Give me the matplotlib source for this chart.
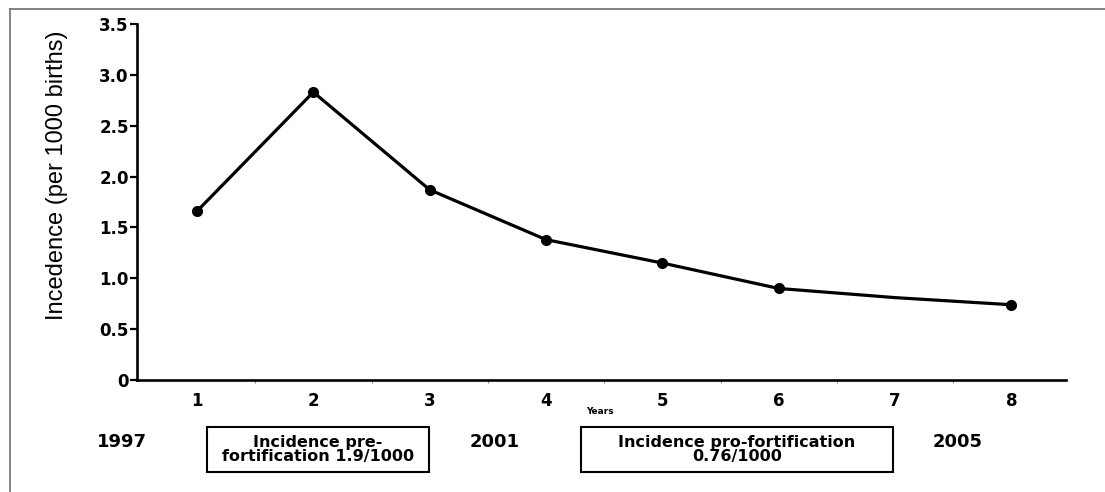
import matplotlib
matplotlib.use('Agg')
import matplotlib.pyplot as plt
from matplotlib.lines import Line2D

# data
years_idx = [1, 2, 3, 4, 5, 6, 7, 8]
incidence = [1.66, 2.83, 1.87, 1.38, 1.15, 0.90, 0.81, 0.74]
y_ticks = [0, 0.5, 1.0, 1.5, 2.0, 2.5, 3.0, 3.5]
y_ticklabels = ['0', '0.5', '1.0', '1.5', '2.0', '2.5', '3.0', '3.5']
period_years = ['1997', '2001', '2005']
box_texts = ['Incidence pre-\nfortification 1.9/1000',
             'Incidence pro-fortification\n0.76/1000']

W, H = 1105, 492
fig = plt.figure(figsize=(W / 100, H / 100), dpi=100)
fig.patch.set_facecolor('white')

def fx(px):
    return px / W

def fy(py):
    return 1 - py / H

ax = fig.add_axes([fx(137), fy(380), fx(1066) - fx(137), fy(24) - fy(380)])

# point 7 has no visible dot in the original
ax.plot(years_idx, incidence, color='black', linewidth=2.3,
        marker='o', markersize=7, markevery=[0, 1, 2, 3, 4, 5, 7])

ax.set_xlim(0.484, 8.47)
ax.set_ylim(0, 3.5)

for side in ['top', 'right']:
    ax.spines[side].set_visible(False)
for side in ['left', 'bottom']:
    ax.spines[side].set_linewidth(1.9)

bold = {'family': 'DejaVu Sans', 'weight': 'bold'}

ax.set_yticks(y_ticks)
ax.set_yticklabels(y_ticklabels, fontdict=dict(bold, size=12))
ax.tick_params(axis='y', direction='out', length=5, width=1.6, pad=1)

ax.set_xticks(years_idx)
ax.set_xticklabels([str(i) for i in years_idx], fontdict=dict(bold, size=12))
ax.set_xticks([i + 0.5 for i in years_idx[:-1]], minor=True)
ax.tick_params(axis='x', which='major', length=0, pad=9)
ax.tick_params(axis='x', which='minor', length=2, width=0.8, color='#888888')

fig.text(fx(600), fy(412), 'Years', ha='center', va='center',
         family='DejaVu Sans', weight='bold', size=6.5)

fig.text(fx(57), fy(175), 'Incedence (per 1000 births)', rotation=90,
         ha='center', va='center', size=17,
         family=['Liberation Sans', 'DejaVu Sans'])

# period labels under the axis
for txt, px in zip(period_years, [122, 495, 958]):
    fig.text(fx(px), fy(442), txt, ha='center', va='center',
             family='DejaVu Sans', weight='bold', size=13)

# boxed notes
boxes = [(207, 429), (581, 893)]
for txt, (x0, x1) in zip(box_texts, boxes):
    rect = plt.Rectangle((fx(x0), fy(472)), fx(x1) - fx(x0), fy(427) - fy(472),
                         transform=fig.transFigure, fill=False,
                         edgecolor='black', linewidth=1.5)
    fig.add_artist(rect)
    fig.text(fx((x0 + x1) / 2), fy(449.5), txt, ha='center', va='center',
             family='DejaVu Sans', weight='bold', size=11.5, linespacing=1.0)

# thin grey frame round the figure (top and left only)
fig.add_artist(Line2D([fx(10), 1], [fy(9), fy(9)], transform=fig.transFigure,
                      color='#6e6e6e', linewidth=1.2))
fig.add_artist(Line2D([fx(10), fx(10)], [fy(9), 0], transform=fig.transFigure,
                      color='#6e6e6e', linewidth=1.2))

fig.savefig('out.png', dpi=100, facecolor='white')
